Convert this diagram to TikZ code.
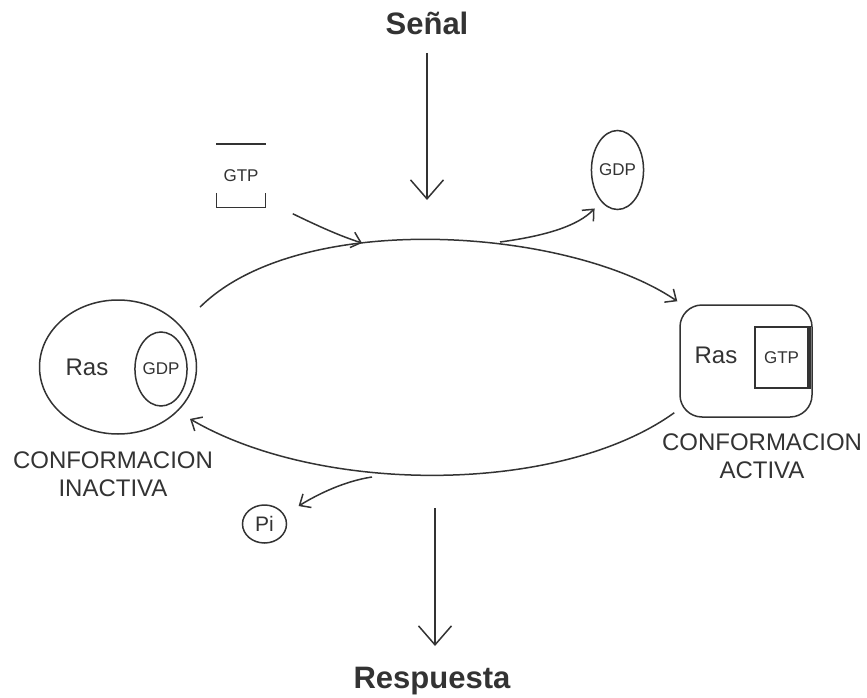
\documentclass[tikz,border=0pt]{standalone}
\usepackage{fontspec}
\setmainfont{Liberation Sans}
\usetikzlibrary{arrows.meta,shapes.geometric,calc}

\begin{document}
\begin{tikzpicture}[x=1pt,y=-1pt,line width=1.5pt,color=black!80,
    big/.style={font=\fontsize{31}{34}\selectfont\bfseries},
    lab/.style={font=\fontsize{24}{28}\selectfont,align=center},
    tag/.style={font=\fontsize{17}{20}\selectfont},
    bigarr/.style={-{Straight Barb[length=19pt,width=33pt,line width=1.5pt]}},
    thinarr/.style={-{Straight Barb[length=9pt,width=16pt,line width=1.5pt]}}]
    \useasboundingbox (0,0) rectangle (867,698);

    % Signal on top
    \node[big, anchor=base] (senal) at (427,35) {Señal};
    \coordinate (sigend) at (427,200);
    \draw[bigarr] ($(senal.base)+(0,18)$) -- (sigend);

    % Inactive conformation
    \node[ellipse, draw, minimum width=157pt, minimum height=134pt] (inact) at (118,367) {};
    \node[ellipse, draw, minimum width=51pt, minimum height=74pt, inner sep=0pt, tag] (gdpin) at (161,369) {GDP};
    \node[lab] (rasin) at (87,367) {Ras};
    \node[lab] (labin) at (113,474) {CONFORMACION\\INACTIVA};

    % Active conformation
    \node[draw, rounded corners=22pt, minimum width=132pt, minimum height=112pt] (act) at (746,361) {};
    \node[draw, minimum width=53pt, minimum height=61pt, tag] (gtpin) at (781.5,357.5) {GTP};
    \draw[line width=4pt] (gtpin.north east) -- (gtpin.south east);
    \node[lab] (rasact) at (716,355) {Ras};
    \node[lab] (labact) at (762,456) {CONFORMACION\\ACTIVA};

    % Free GTP, GDP and Pi
    \node[tag, minimum width=48pt, minimum height=62pt] (gtp) at (241,176) {GTP};
    \draw (gtp.north west) -- (gtp.north east);
    \draw[line width=1.2pt] ([yshift=15pt]gtp.south west) -- (gtp.south west) -- (gtp.south east) -- ([yshift=15pt]gtp.south east);
    \node[ellipse, draw, minimum width=51pt, minimum height=79pt, inner sep=0pt, tag] (gdp) at (617.5,170) {GDP};
    \node[ellipse, draw, minimum width=44pt, minimum height=38pt, inner sep=0pt, font=\fontsize{21}{24}\selectfont] (pi) at (264.5,524) {Pi};

    % Cycle
    \draw[thinarr] ($(inact.north east)+(26,-12)$) .. controls (300,208) and (570,228) .. ($(act.north west)+(-2,-3)$);
    \draw[thinarr] ($(act.south west)+(-5,-5)$) .. controls (560,495) and (320,495) .. ($(inact.south east)+(16,4)$);

    % Exchange arrows
    \coordinate (gtpend) at (362,243);
    \draw[thinarr] ($(gtp.south east)+(27,6)$) .. controls (318,226) and (340,236) .. (gtpend);
    \coordinate (gdpstart) at (500,242);
    \draw[thinarr] (gdpstart) .. controls (545,236) and (578,226) .. ($(gdp.south west)+(-4,10)$);
    \coordinate (pistart) at (372,477);
    \draw[thinarr] (pistart) .. controls (345,481) and (318,494) .. ($(pi.north east)+(18,-4)$);

    % Response
    \node[big, anchor=base] (resp) at (432,688) {Respuesta};
    \coordinate (respstart) at (435,508);
    \draw[bigarr] (respstart) -- ($(resp.base)+(3,-42)$);
\end{tikzpicture}
\end{document}
